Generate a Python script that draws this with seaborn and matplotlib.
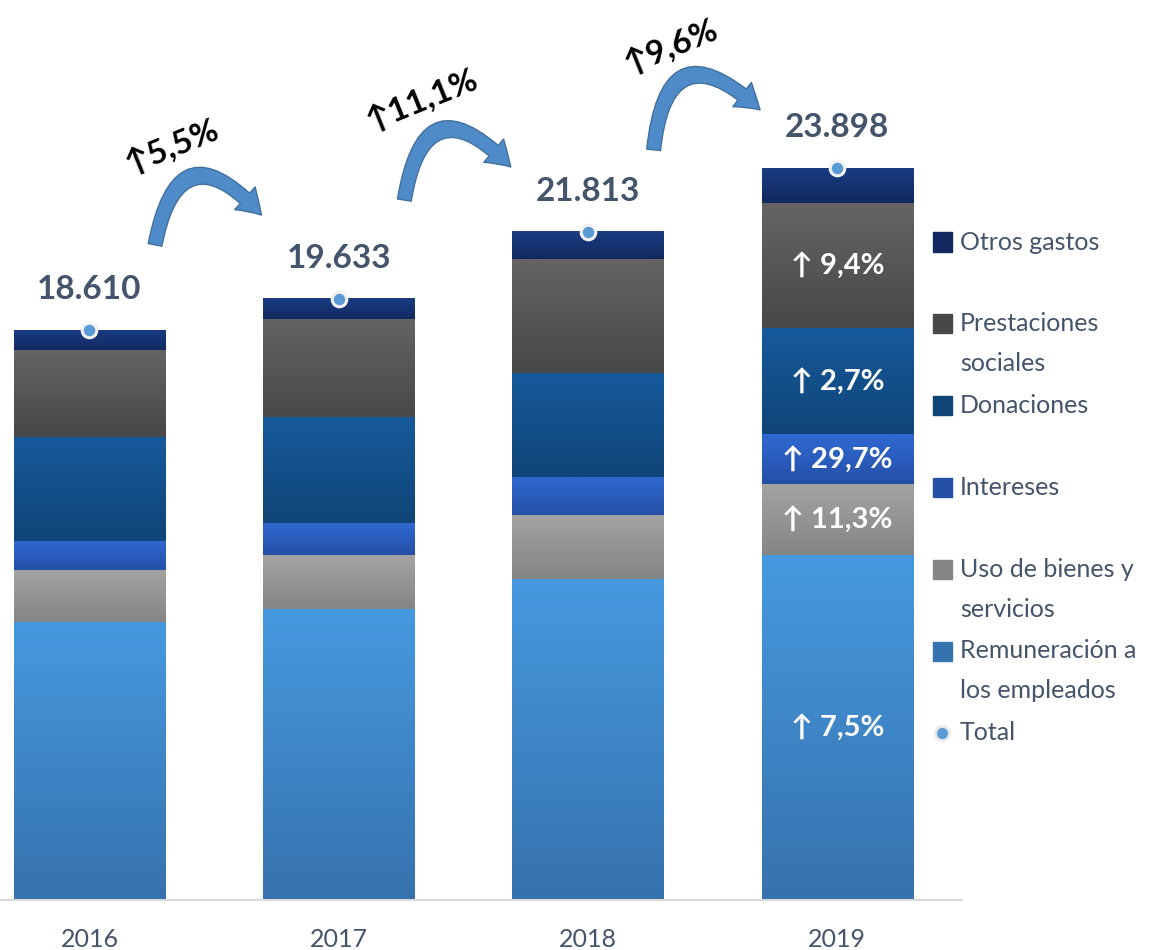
import numpy as np
import matplotlib
matplotlib.use('Agg')
import matplotlib.pyplot as plt
import seaborn as sns
from matplotlib.colors import LinearSegmentedColormap
from matplotlib.patches import Rectangle, FancyArrowPatch
from matplotlib.lines import Line2D

# values (millions), stacked bottom -> top
years = ['2016', '2017', '2018', '2019']
remuneracion = [9077, 9501, 10481, 11267]
uso_bienes = [1698, 1763, 2090, 2326]
intereses = [947, 1045, 1241, 1610]
donaciones = [3396, 3461, 3396, 3488]
prestaciones = [2841, 3200, 3722, 4072]
otros = [651, 663, 883, 1135]
totals = [18610, 19633, 21813, 23898]

growth_total = ['5,5%', '11,1%', '9,6%']
growth_2019 = ['7,5%', '11,3%', '29,7%', '2,7%', '9,4%']

series = [
    (['Remuneración a', 'los empleados'], remuneracion, '#4699DF', '#3672AE'),
    (['Uso de bienes y', 'servicios'], uso_bienes, '#A3A3A3', '#858585'),
    (['Intereses'], intereses, '#3069D3', '#2450A6'),
    (['Donaciones'], donaciones, '#175A9C', '#0F4577'),
    (['Prestaciones', 'sociales'], prestaciones, '#646464', '#484848'),
    (['Otros gastos'], otros, '#1A3C82', '#12295F'),
]

TEXT = '#44546A'
W, H = 1175, 950

sns.set_theme(style='white')
plt.rcParams['font.family'] = ['Lato', 'DejaVu Sans']

fig = plt.figure(figsize=(W / 100, H / 100), dpi=100)
ax = fig.add_axes([0, 50 / H, 962 / W, 900 / H])

bottom = np.zeros(len(years))
for labels, vals, top_c, bot_c in series:
    sns.barplot(x=years, y=vals, bottom=bottom, color=bot_c, saturation=1,
                width=0.607, errorbar=None, ax=ax)
    bottom += np.array(vals)

xlim = (-0.359, 3.5)
ylim = (0, 29385)

# vertical gradient inside every segment
n = len(years)
for k, patch in enumerate(list(ax.patches)):
    _, _, top_c, bot_c = series[k // n]
    x0, y0 = patch.get_x(), patch.get_y()
    w, h = patch.get_width(), patch.get_height()
    cmap = LinearSegmentedColormap.from_list('g', [bot_c, top_c])
    grad = np.linspace(0, 1, 64).reshape(-1, 1)
    ax.imshow(grad, extent=(x0, x0 + w, y0, y0 + h), origin='lower',
              cmap=cmap, aspect='auto', zorder=patch.get_zorder() + 0.1)

# total markers and labels
ax.scatter(np.arange(n), totals, s=110, color='#5B9BD5', edgecolor='#F2F2F2',
           linewidth=2.2, zorder=5)
for i, t in enumerate(totals):
    ax.annotate(f'{t:,}'.replace(',', '.'), (i, t), xytext=(0, 29),
                textcoords='offset points', ha='center', va='center',
                fontsize=24, fontweight='bold', color=TEXT)

# growth labels inside the 2019 bar
seg_bottom = 0
for (labels, vals, _, _), g in zip(series, growth_2019):
    ax.text(3, seg_bottom + vals[3] / 2, '↑ ' + g, ha='center', va='center',
            fontsize=21, fontweight='bold', color='white', zorder=6)
    seg_bottom += vals[3]

# curved arrows between totals
arrow_lift = [(2780, 2730), (3220, 2120), (2680, 1900)]
text_lift = [5975, 6490, 6040]
for i, g in enumerate(growth_total):
    a = FancyArrowPatch((i + 0.263, totals[i] + arrow_lift[i][0]),
                        (i + 0.69, totals[i + 1] + arrow_lift[i][1]),
                        connectionstyle='arc3,rad=-1.0',
                        arrowstyle='simple,head_length=17,head_width=22,tail_width=10',
                        facecolor='#4F8BC9', edgecolor='#41719C', linewidth=1,
                        shrinkA=0, shrinkB=0, zorder=4)
    ax.add_patch(a)
    ax.text(i + 0.33, totals[i] + text_lift[i], '↑' + g, rotation=22,
            ha='center', va='center', fontsize=24, fontweight='bold',
            color='black')

ax.set_xlim(*xlim)
ax.set_ylim(*ylim)
ax.set_xlabel('')
ax.set_ylabel('')
ax.set_yticks([])
sns.despine(ax=ax, left=True)
ax.spines['bottom'].set_color('#D9D9D9')
ax.spines['bottom'].set_linewidth(1.5)
ax.tick_params(axis='x', length=0, pad=20, labelsize=18, labelcolor=TEXT)

# legend, drawn by hand to copy the Excel spacing
legend_y = 242
for labels, vals, top_c, bot_c in reversed(series):
    y = 1 - legend_y / H
    fig.add_artist(Rectangle((933 / W, y - 9.5 / H), 19 / W, 19 / H,
                             transform=fig.transFigure, color=bot_c))
    for j, line in enumerate(labels):
        fig.text(960 / W, 1 - (legend_y + 40 * j) / H, line, ha='left',
                 va='center', fontsize=18, color=TEXT)
    legend_y += 81.8
fig.add_artist(Line2D([942 / W], [1 - legend_y / H], marker='o', markersize=10,
                      color='#5B9BD5', markeredgecolor='#E8E8E8',
                      markeredgewidth=2, transform=fig.transFigure))
fig.text(960 / W, 1 - legend_y / H, 'Total', ha='left', va='center',
         fontsize=18, color=TEXT)

fig.savefig('out.png', dpi=100)
